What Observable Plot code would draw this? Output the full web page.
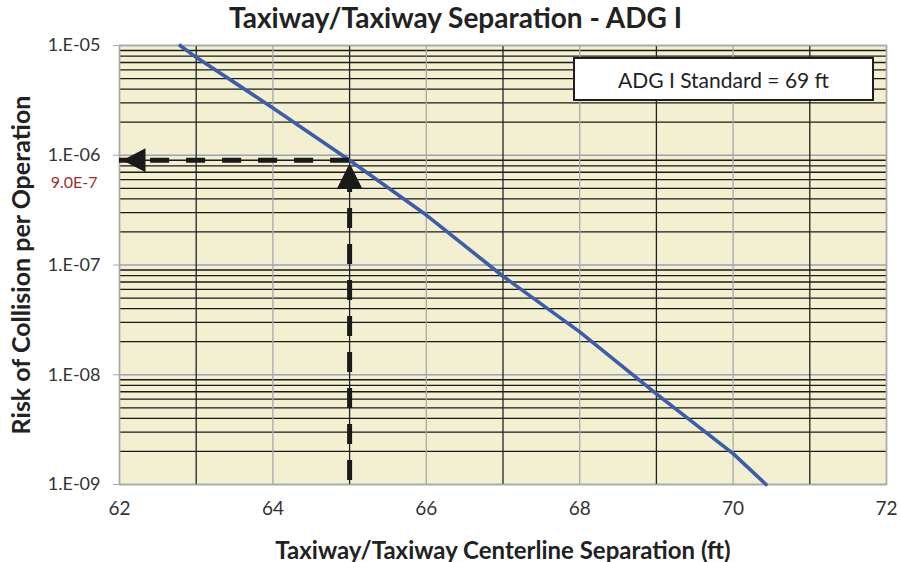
<!DOCTYPE html>
<html>
<head>
<meta charset="utf-8">
<script src="https://cdn.jsdelivr.net/npm/d3@7"></script>
<script src="https://cdn.jsdelivr.net/npm/@observablehq/plot@0.6"></script>
<style>
  body { margin: 0; background: #fff; font-family: Lato, "Open Sans", sans-serif; }
  #wrap { position: relative; width: 901px; height: 562px; }
  #title { position: absolute; left: 0; top: -1px; width: 901px; text-align: center; font-weight: bold; font-size: 28px; color: #222; line-height: 36px; padding-left: 10px; box-sizing: border-box; }
  #chart { position: absolute; left: 0; top: 34px; }
  #legend { position: absolute; left: 573px; top: 57px; width: 301px; height: 44px; box-sizing: border-box; border: 2px solid #1e1e1e; background: #fff; font-size: 21px; color: #222; display: flex; align-items: center; justify-content: center; }
</style>
</head>
<body>
<div id="wrap">
  <div id="title"></div>
  <div id="chart"></div>
  <div id="legend"></div>
</div>
<script>
// ---- data ----
const titleText = "Taxiway/Taxiway Separation - ADG I";
const xLabel = "Taxiway/Taxiway Centerline Separation (ft)";
const yLabel = "Risk of Collision per Operation";
const legendText = "ADG I Standard = 69 ft";

const separation = [62.79, 63, 64, 65, 66, 67, 68, 69, 70, 70.43];
const risk = [1.0e-5, 7.8e-6, 2.7e-6, 9.0e-7, 2.85e-7, 7.9e-8, 2.46e-8, 6.7e-9, 1.91e-9, 1.0e-9];

const xTicks = [62, 64, 66, 68, 70, 72];
const xMinorTicks = [63, 65, 67, 69, 71];
const yTicks = [1e-9, 1e-8, 1e-7, 1e-6, 1e-5];
const yTickLabels = ["1.E-09", "1.E-08", "1.E-07", "1.E-06", "1.E-05"];

const annotX = [65];
const annotY = [9.0e-7];
const annotLabel = ["9.0E-7"];

// ---- build ----
document.getElementById("title").textContent = titleText;
document.getElementById("legend").textContent = legendText;

const data = separation.map((s, i) => ({s, r: risk[i]}));
const xDomain = [62, 72];
const yDomain = [1e-9, 1e-5];

// minor log gridlines (2..9 within each decade)
const yMinor = [];
for (let d = 0; d < yTicks.length - 1; d++) {
  for (let k = 2; k <= 9; k++) yMinor.push(k * yTicks[d]);
}

const upArrow = {draw(ctx) { ctx.moveTo(0, 0); ctx.lineTo(12.5, 25); ctx.lineTo(-12.5, 25); ctx.closePath(); }};
const leftArrow = {draw(ctx) { ctx.moveTo(0, 0); ctx.lineTo(23, -12); ctx.lineTo(23, 12); ctx.closePath(); }};

const chart = Plot.plot({
  width: 901,
  height: 528,
  marginLeft: 119,
  marginRight: 15,
  marginTop: 11,
  marginBottom: 78,
  style: {fontFamily: "Lato, 'Open Sans', sans-serif", background: "transparent", fontSize: "16px"},
  x: {domain: xDomain, axis: null},
  y: {type: "log", domain: yDomain, axis: null},
  marks: [
    Plot.frame({fill: "#f2f0d0", stroke: null}),
    Plot.ruleY(yMinor, {stroke: "#1a1a1a", strokeWidth: 1.3}),
    Plot.ruleY(yTicks, {stroke: "#9aa2b4", strokeWidth: 1.3}),
    Plot.ruleX(xMinorTicks, {stroke: "#222", strokeWidth: 1.3}),
    Plot.ruleX(xTicks, {stroke: "#a8a8a8", strokeWidth: 1.3}),
    Plot.frame({stroke: "#a8a8a8", strokeWidth: 1.5}),
    Plot.axisY({
      ticks: yTicks, tickFormat: (d) => yTickLabels[yTicks.indexOf(d)],
      tickSize: 6, tickPadding: 13, stroke: "#a8a8a8", color: "#333",
      label: yLabel, labelAnchor: "center", labelOffset: 107, labelArrow: "none"
    }),
    Plot.axisX({
      ticks: xTicks, tickSize: 0, tickPadding: 17, color: "#333",
      label: xLabel, labelAnchor: "center", labelOffset: 74, labelArrow: "none"
    }),
    Plot.line(data, {x: "s", y: "r", stroke: "#3d5daa", strokeWidth: 3.6}),
    Plot.ruleY(annotY, {x1: annotX[0], x2: xDomain[0], stroke: "#1a1a1a", strokeWidth: 5, strokeDasharray: "19,17"}),
    Plot.ruleX(annotX, {y1: yDomain[0], y2: annotY[0], stroke: "#1a1a1a", strokeWidth: 5, strokeDasharray: "20,16", strokeDashoffset: -4}),
    Plot.dot(annotY, {x: xDomain[0], y: d => d, symbol: leftArrow, fill: "#1a1a1a", stroke: null, dx: 3}),
    Plot.dot(annotX, {x: d => d, y: annotY[0], symbol: upArrow, fill: "#1a1a1a", stroke: null, dy: 3}),
    Plot.text(annotLabel, {x: xDomain[0], y: annotY[0], text: d => d, textAnchor: "end", dx: -22, dy: 23, fill: "#9b2d2d"})
  ]
});

document.getElementById("chart").appendChild(chart);

// font sizes (set via style so they win over inherited sizes)
chart.querySelectorAll("g[aria-label='y-axis tick label'] text").forEach(t => { t.style.fontSize = "18px"; });
chart.querySelectorAll("g[aria-label='x-axis tick label'] text").forEach(t => { t.style.fontSize = "19px"; });
chart.querySelectorAll("g[aria-label='y-axis label'] text").forEach(t => {
  t.style.fontSize = "25px"; t.style.fontWeight = "bold"; t.style.fill = "#222";
});
chart.querySelectorAll("g[aria-label='x-axis label'] text").forEach(t => {
  t.style.fontSize = "24px"; t.style.fontWeight = "bold"; t.style.fill = "#222";
});
chart.querySelectorAll("g[aria-label='text'] text").forEach(t => { t.style.fontSize = "16px"; });
</script>
</body>
</html>
